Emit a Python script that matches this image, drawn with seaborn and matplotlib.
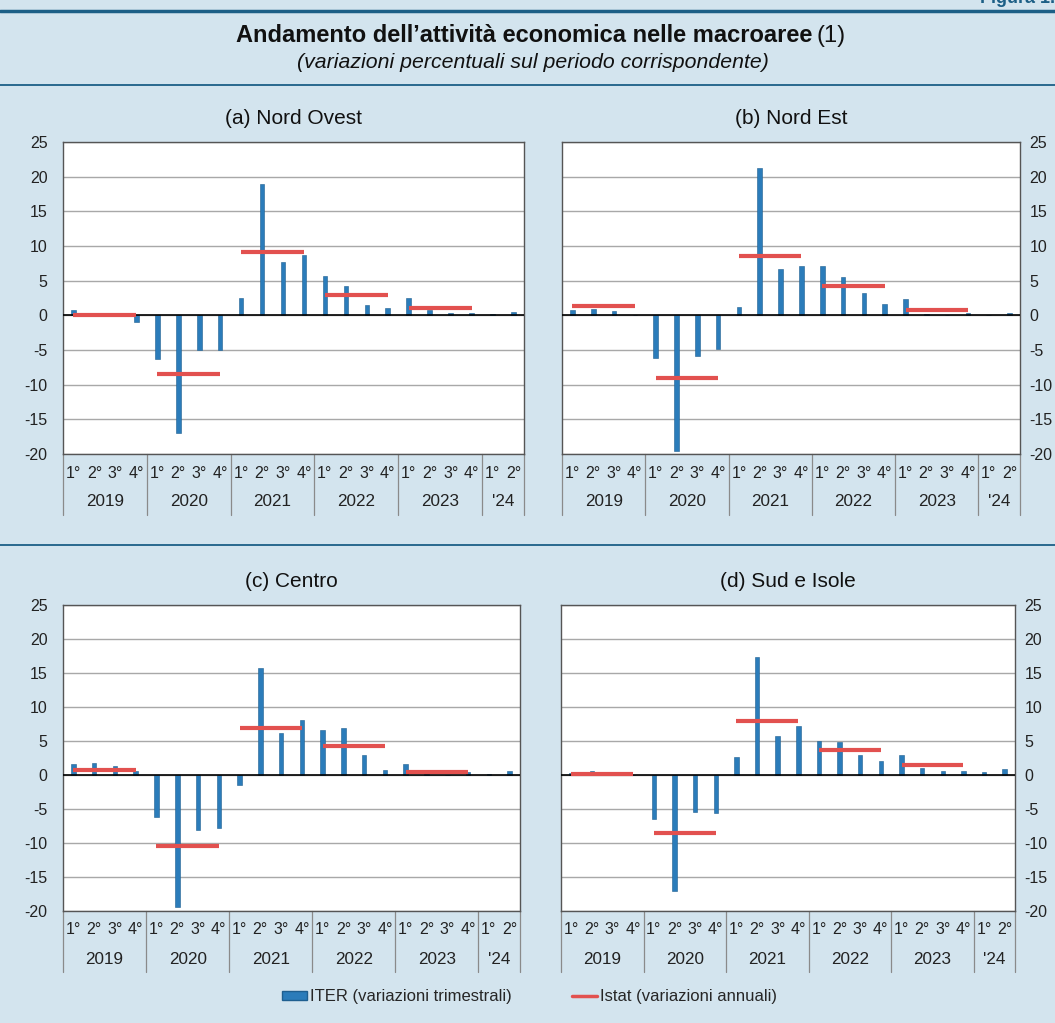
import numpy as np
import pandas as pd
import seaborn as sns
import matplotlib.pyplot as plt
from matplotlib.patches import Patch
from matplotlib.lines import Line2D
from matplotlib.transforms import blended_transform_factory

# dati
anni = ['2019', '2020', '2021', '2022', '2023', "'24"]
trimestri = ['1°', '2°', '3°', '4°'] * 5 + ['1°', '2°']
periodi = [f'{a}-{t}' for a, n in zip(anni, [4, 4, 4, 4, 4, 2]) for t in range(1, n + 1)]

nord_ovest = [0.7, 0.4, 0.05, -0.9, -6.3, -17.0, -5.0, -5.0, 2.5, 19.0, 7.7, 8.7,
              5.7, 4.2, 1.5, 1.0, 2.5, 0.8, 0.3, 0.4, 0.25, 0.5]
nord_est = [0.8, 0.9, 0.6, 0.1, -6.1, -19.5, -5.8, -4.8, 1.2, 21.3, 6.7, 7.1,
            7.1, 5.5, 3.2, 1.7, 2.4, 0.25, 0.0, 0.3, 0.0, 0.4]
centro = [1.6, 1.7, 1.3, 0.6, -6.2, -19.4, -8.1, -7.8, -1.4, 15.8, 6.2, 8.1,
          6.6, 6.9, 3.0, 0.7, 1.6, 0.15, 0.0, 0.5, 0.2, 0.6]
sud_isole = [0.3, 0.6, 0.5, 0.0, -6.5, -17.0, -5.4, -5.6, 2.6, 17.4, 5.8, 7.2,
             5.0, 4.8, 3.0, 2.1, 3.0, 1.1, 0.65, 0.6, 0.45, 0.9]

istat_no = [0.1, -8.4, 9.2, 3.0, 1.0]
istat_ne = [1.3, -9.0, 8.6, 4.3, 0.7]
istat_ce = [0.7, -10.4, 6.9, 4.2, 0.5]
istat_si = [0.2, -8.6, 8.0, 3.7, 1.4]

titoli = ['(a) Nord Ovest', '(b) Nord Est', '(c) Centro', '(d) Sud e Isole']

BG = '#d3e4ee'
BLUE = '#2b7cba'
RED = '#e2514f'
DARK = '#1c5f86'

sns.set_theme(style='white')
plt.rcParams['font.family'] = ['Liberation Sans', 'DejaVu Sans']

W, H = 1055, 1023
fig = plt.figure(figsize=(W / 100, H / 100), dpi=100, facecolor=BG)


def px_axes(l, t, r, b):
    return fig.add_axes([l / W, 1 - b / H, (r - l) / W, (b - t) / H])


def pannello(ax, valori, istat, titolo, destra=False):
    df = pd.DataFrame({'periodo': periodi, 'val': valori})
    sns.barplot(data=df, x='periodo', y='val', order=periodi, color=BLUE,
                saturation=1, width=0.22, ax=ax, edgecolor='#1f5f90', linewidth=0.4)
    ax.set_facecolor('white')
    ax.set_xlim(-0.5, len(periodi) - 0.5)
    ax.set_ylim(-20, 25)
    ax.set_yticks(np.arange(-20, 26, 5))
    ax.set_yticklabels([str(v) for v in range(-20, 26, 5)])
    ax.yaxis.grid(True, color='#a8a8a8', linewidth=1.0)
    ax.set_axisbelow(True)
    ax.axhline(0, color='black', linewidth=1.2, zorder=3)
    for s in ax.spines.values():
        s.set_color('#555555')
        s.set_linewidth(1.0)
    ax.set_xlabel('')
    ax.set_ylabel('')
    ax.set_xticks([])
    if destra:
        ax.yaxis.tick_right()
        ax.tick_params(axis='y', length=0, labelsize=11.5, pad=7, colors='#222222')
    else:
        ax.tick_params(axis='y', length=0, labelsize=11.5, pad=11, colors='#222222')
    # linee Istat: dal 1° al 4° trimestre di ciascun anno
    for i, v in enumerate(istat):
        ax.hlines(v, 4 * i, 4 * i + 3, color=RED, linewidth=3, zorder=4)
    ax.set_title(titolo, fontsize=15, pad=13, color='#111111')

    # etichette a due livelli sull'asse x
    tr = blended_transform_factory(ax.transData, ax.transAxes)
    hpx = ax.get_position().height * H
    y1 = -19 / hpx
    y2 = -48 / hpx
    yb = -61 / hpx
    for i, t in enumerate(trimestri):
        ax.text(i, y1, t, transform=tr, ha='center', va='center', fontsize=11.5,
                color='#222222', clip_on=False)
    start = 0
    for a, n in zip(anni, [4, 4, 4, 4, 4, 2]):
        ax.text(start + (n - 1) / 2, y2, a, transform=tr, ha='center', va='center',
                fontsize=12.3, color='#222222', clip_on=False)
        ax.plot([start - 0.5, start - 0.5], [0, yb], transform=tr, color='#8a8a8a',
                linewidth=0.9, clip_on=False)
        start += n
    ax.plot([start - 0.5, start - 0.5], [0, yb], transform=tr, color='#8a8a8a',
            linewidth=0.9, clip_on=False)


ax_a = px_axes(63, 142, 524, 454)
ax_b = px_axes(562, 142, 1020, 454)
ax_c = px_axes(63, 605, 520, 911)
ax_d = px_axes(561, 605, 1015, 911)

pannello(ax_a, nord_ovest, istat_no, titoli[0])
pannello(ax_b, nord_est, istat_ne, titoli[1], destra=True)
pannello(ax_c, centro, istat_ce, titoli[2])
pannello(ax_d, sud_isole, istat_si, titoli[3], destra=True)

# intestazione
fig.add_artist(Line2D([0, 1], [1 - 11 / H, 1 - 11 / H], color=DARK, linewidth=2.5))
fig.add_artist(Line2D([0, 1], [1 - 85 / H, 1 - 85 / H], color=DARK, linewidth=1.3))
fig.add_artist(Line2D([0, 1], [1 - 545 / H, 1 - 545 / H], color=DARK, linewidth=1.3))
fig.text(1.0, 1 - 3 / H, 'Figura 1.', ha='right', va='baseline', fontsize=13,
         fontweight='bold', color=DARK)
fig.text(812 / W, 1 - 36 / H, 'Andamento dell\u2019attività economica nelle macroaree',
         ha='right', va='center', fontsize=17, fontweight='bold', color='#111111')
fig.text(817 / W, 1 - 36 / H, '(1)', ha='left', va='center', fontsize=17,
         color='#111111')
fig.text(533 / W, 1 - 62 / H, '(variazioni percentuali sul periodo corrispondente)',
         ha='center', va='center', fontsize=15.3, style='italic', color='#111111')

# legenda
handles = [Patch(facecolor=BLUE, edgecolor='#1f5f90'),
           Line2D([0], [0], color=RED, linewidth=2.5)]
fig.legend(handles, ['ITER (variazioni trimestrali)', 'Istat (variazioni annuali)'],
           loc='center', bbox_to_anchor=(0.502, 1 - 997 / H), ncol=2, frameon=False,
           fontsize=12, handlelength=1.5, handleheight=0.5, handletextpad=0.2,
           columnspacing=3.6)

fig.savefig('out.png', dpi=100, facecolor=BG)
